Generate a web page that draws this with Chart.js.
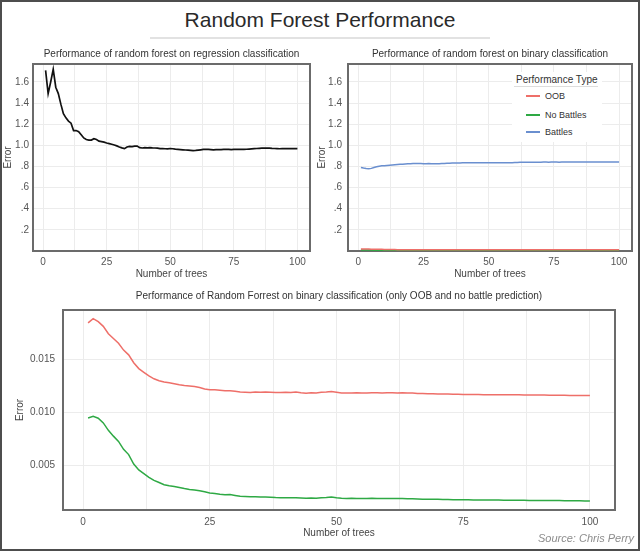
<!DOCTYPE html>
<html>
<head>
<meta charset="utf-8">
<script src="https://cdn.jsdelivr.net/npm/chart.js@4.4.1/dist/chart.umd.min.js"></script>
<style>
  html, body { margin: 0; padding: 0; background: #fff; }
  #page { position: relative; width: 640px; height: 551px; overflow: hidden; background: #fff;
          font-family: "Liberation Sans", Arial, sans-serif; }
  #frame { position: absolute; left: 0; top: 0; width: 640px; height: 551px; box-sizing: border-box;
           border: 2px solid #4d4d4d; pointer-events: none; }
  #title { position: absolute; left: 0; width: 640px; top: 8px; text-align: center;
           font-size: 21px; color: #2a2a2a; line-height: 24px; }
  #rule { position: absolute; left: 150px; top: 37px; width: 340px; height: 2px; background: #e2e2e2; }
  canvas { position: absolute; }
  #legend { position: absolute; left: 512px; top: 72px; width: 90px; height: 70px; background: #fff; }
  #legend .head { position: absolute; left: 4px; top: 2px; font-size: 10px; line-height: 12px; color: #333; }
  #legend .under { position: absolute; left: 2px; top: 14px; width: 84px; height: 1px; background: #ddd; }
  #legend .row { position: absolute; left: 14px; height: 10px; font-size: 9px; line-height: 10px; color: #333; white-space: nowrap; }
  #legend .row i { position: absolute; left: 0; top: 4px; width: 14px; height: 2px; }
  #legend .row span { position: absolute; left: 19px; top: 0; }
  #source { position: absolute; right: 6px; top: 532px; font-size: 11px; font-style: italic; color: #8c8c8c; }
</style>
</head>
<body>
<div id="page">
  <div id="title">Random Forest Performance</div>
  <div id="rule"></div>
  <canvas id="c1" width="312" height="240" style="left:0;top:44px"></canvas>
  <canvas id="c2" width="328" height="240" style="left:312px;top:44px"></canvas>
  <canvas id="c3" width="640" height="261" style="left:0;top:284px"></canvas>
  <div id="legend"></div>
  <div id="source">Source: Chris Perry</div>
  <div id="frame"></div>
</div>
<script>
// number of trees on the x axis
const trees = Array.from({ length: 100 }, (_, i) => i + 1);

// regression error (top left)
const regressionError = [
  1.71, 1.49, 1.60, 1.72, 1.55, 1.49, 1.39, 1.30, 1.26, 1.23,
  1.21, 1.14, 1.14, 1.13, 1.10, 1.07, 1.055, 1.05, 1.05, 1.063,
  1.055, 1.04, 1.035, 1.03, 1.022, 1.016, 1.01, 1.003, 0.995, 0.985,
  0.976, 0.969, 0.985, 0.99, 0.988, 0.993, 0.993, 0.978, 0.975, 0.978,
  0.977, 0.978, 0.976, 0.975, 0.974, 0.969, 0.970, 0.968, 0.967, 0.970,
  0.968, 0.964, 0.962, 0.960, 0.958, 0.956, 0.955, 0.953, 0.951, 0.952,
  0.955, 0.958, 0.961, 0.963, 0.962, 0.960, 0.958, 0.959, 0.960, 0.960,
  0.961, 0.961, 0.962, 0.960, 0.961, 0.962, 0.962, 0.961, 0.962, 0.963,
  0.965, 0.967, 0.969, 0.970, 0.972, 0.973, 0.974, 0.974, 0.973, 0.971,
  0.970, 0.969, 0.968, 0.969, 0.970, 0.969, 0.970, 0.969, 0.970, 0.969
];

// binary classification errors
const battlesError = [
  0.791, 0.785, 0.781, 0.779, 0.782, 0.790, 0.797, 0.803, 0.806, 0.808,
  0.810, 0.812, 0.814, 0.816, 0.818, 0.820, 0.822, 0.824, 0.825, 0.826,
  0.828, 0.829, 0.829, 0.828, 0.827, 0.827, 0.828, 0.827, 0.826, 0.826,
  0.827, 0.828, 0.829, 0.830, 0.831, 0.832, 0.833, 0.834, 0.834, 0.835,
  0.835, 0.835, 0.836, 0.836, 0.836, 0.836, 0.835, 0.835, 0.836, 0.836,
  0.836, 0.835, 0.835, 0.836, 0.836, 0.836, 0.835, 0.836, 0.836, 0.837,
  0.838, 0.839, 0.840, 0.840, 0.841, 0.840, 0.840, 0.840, 0.841, 0.841,
  0.842, 0.842, 0.841, 0.842, 0.842, 0.842, 0.841, 0.842, 0.842, 0.842,
  0.842, 0.842, 0.843, 0.842, 0.842, 0.842, 0.843, 0.843, 0.842, 0.842,
  0.842, 0.843, 0.843, 0.842, 0.842, 0.843, 0.843, 0.842, 0.843, 0.842
];

const oobError = [
  0.01848, 0.01888, 0.01860, 0.01815, 0.01745, 0.01700, 0.01655, 0.01590, 0.01545, 0.01470,
  0.01415, 0.01380, 0.01345, 0.01318, 0.01300, 0.01288, 0.01280, 0.01272, 0.01262, 0.01255,
  0.01250, 0.01245, 0.01235, 0.01222, 0.01215, 0.01215, 0.01210, 0.01205, 0.01206, 0.01200,
  0.01192, 0.01190, 0.01188, 0.01192, 0.01190, 0.01192, 0.01190, 0.01188, 0.01188, 0.01190,
  0.01188, 0.01192, 0.01186, 0.01182, 0.01185, 0.01183, 0.01190, 0.01192, 0.01197, 0.01190,
  0.01184, 0.01183, 0.01184, 0.01185, 0.01183, 0.01184, 0.01185, 0.01185, 0.01184, 0.01186,
  0.01185, 0.01184, 0.01185, 0.01184, 0.01183, 0.01180, 0.01178, 0.01177, 0.01176, 0.01175,
  0.01174, 0.01173, 0.01172, 0.01171, 0.01170, 0.01170, 0.01169, 0.01169, 0.01168, 0.01168,
  0.01167, 0.01167, 0.01167, 0.01166, 0.01166, 0.01166, 0.01165, 0.01165, 0.01165, 0.01164,
  0.01164, 0.01163, 0.01163, 0.01162, 0.01162, 0.01161, 0.01161, 0.01160, 0.01160, 0.01159
];

const noBattlesError = [
  0.00946, 0.00962, 0.00945, 0.00900, 0.00830, 0.00775, 0.00725, 0.00650, 0.00600, 0.00510,
  0.00455, 0.00420, 0.00385, 0.00355, 0.00335, 0.00315, 0.00305, 0.00298, 0.00288, 0.00278,
  0.00270, 0.00265, 0.00258, 0.00248, 0.00236, 0.00232, 0.00225, 0.00220, 0.00221, 0.00213,
  0.00206, 0.00203, 0.00200, 0.00201, 0.00198, 0.00197, 0.00196, 0.00193, 0.00192, 0.00192,
  0.00190, 0.00192, 0.00189, 0.00186, 0.00188, 0.00186, 0.00190, 0.00193, 0.00198, 0.00190,
  0.00186, 0.00185, 0.00186, 0.00185, 0.00184, 0.00185, 0.00186, 0.00185, 0.00184, 0.00185,
  0.00184, 0.00183, 0.00183, 0.00182, 0.00182, 0.00180, 0.00178, 0.00177, 0.00176, 0.00176,
  0.00175, 0.00174, 0.00173, 0.00172, 0.00171, 0.00171, 0.00170, 0.00170, 0.00170, 0.00169,
  0.00169, 0.00169, 0.00168, 0.00168, 0.00168, 0.00167, 0.00167, 0.00166, 0.00166, 0.00166,
  0.00165, 0.00165, 0.00164, 0.00164, 0.00163, 0.00163, 0.00162, 0.00162, 0.00161, 0.00160
];

// ticks and labels
const xGridTicks = [0, 12.5, 25, 37.5, 50, 62.5, 75, 87.5, 100];
const xLabelTicks = [0, 25, 50, 75, 100];
const topYTicks = [0.2, 0.4, 0.6, 0.8, 1.0, 1.2, 1.4, 1.6];
const topYLabels = ['.2', '.4', '.6', '.8', '1.0', '1.2', '1.4', '1.6'];
const bottomYTicks = [0.005, 0.010, 0.015];
const bottomYLabels = ['0.005', '0.010', '0.015'];

const seriesNames = ['OOB', 'No Battles', 'Battles'];
const seriesColors = ['#ee6f69', '#2ea944', '#6a8fcf'];

const FONT = '"Liberation Sans", Arial, sans-serif';
const GRID = '#ececec';

// gray box around each plot panel
const panelFrame = {
  id: 'panelFrame',
  beforeDatasetsDraw(chart) {
    const { ctx, chartArea: a } = chart;
    ctx.save();
    ctx.strokeStyle = '#6b6b6b';
    ctx.lineWidth = 2;
    ctx.strokeRect(a.left, a.top, a.right - a.left, a.bottom - a.top);
    ctx.restore();
  }
};

function points(values) {
  return trees.map((t, i) => ({ x: t, y: values[i] }));
}

function lineSet(label, values, color, width) {
  return {
    label,
    data: points(values),
    borderColor: color,
    borderWidth: width,
    pointRadius: 0,
    tension: 0,
    fill: false
  };
}

function makeOptions(o) {
  return {
    responsive: false,
    animation: false,
    events: [],
    layout: { padding: { right: o.padRight } },
    plugins: {
      legend: { display: false },
      tooltip: { enabled: false },
      title: {
        display: true,
        text: o.title,
        fullSize: false,
        color: '#333',
        font: { family: FONT, size: 10, weight: 'normal' },
        padding: { top: o.titleTop, bottom: o.titleBottom }
      }
    },
    scales: {
      x: {
        type: 'linear',
        min: -3.95,
        max: 104.95,
        afterBuildTicks: s => { s.ticks = xGridTicks.map(v => ({ value: v })); },
        afterFit: s => { s.height = o.xHeight; },
        border: { display: false },
        grid: { color: GRID, drawTicks: false },
        ticks: {
          padding: o.xTickPad,
          color: '#555',
          font: { family: FONT, size: 10 },
          maxRotation: 0,
          autoSkip: false,
          callback: v => (xLabelTicks.includes(v) ? String(v) : '')
        },
        title: {
          display: true,
          text: 'Number of trees',
          color: '#444',
          font: { family: FONT, size: 10 },
          padding: { top: 0, bottom: o.xTitlePad }
        }
      },
      y: {
        type: 'linear',
        min: o.yMin,
        max: o.yMax,
        afterBuildTicks: s => { s.ticks = o.yTicks.map(v => ({ value: v })); },
        afterFit: s => { s.width = o.yWidth; },
        border: { display: false },
        grid: { color: GRID, drawTicks: false },
        ticks: {
          padding: o.yTickPad,
          color: '#555',
          font: { family: FONT, size: 10 },
          autoSkip: false,
          callback: (v, i) => o.yLabels[i]
        },
        title: {
          display: true,
          text: 'Error',
          color: '#444',
          font: { family: FONT, size: 10 },
          padding: { top: o.yTitlePad, bottom: 0 }
        }
      }
    }
  };
}

new Chart(document.getElementById('c1'), {
  type: 'line',
  data: { datasets: [lineSet('Regression', regressionError, '#111', 1.7)] },
  options: makeOptions({
    title: 'Performance of random forest on regression classification',
    titleTop: 4, titleBottom: 4, padRight: 2,
    xHeight: 33, xTickPad: 5, xTitlePad: 4,
    yWidth: 33, yTickPad: 4, yTitlePad: 2,
    yMin: 0, yMax: 1.77, yTicks: topYTicks, yLabels: topYLabels
  }),
  plugins: [panelFrame]
});

new Chart(document.getElementById('c2'), {
  type: 'line',
  data: {
    datasets: [
      lineSet(seriesNames[0], oobError, seriesColors[0], 1.5),
      lineSet(seriesNames[1], noBattlesError, seriesColors[1], 1.5),
      lineSet(seriesNames[2], battlesError, seriesColors[2], 1.5)
    ]
  },
  options: makeOptions({
    title: 'Performance of random forest on binary classification',
    titleTop: 4, titleBottom: 4, padRight: 8,
    xHeight: 33, xTickPad: 5, xTitlePad: 4,
    yWidth: 36, yTickPad: 6, yTitlePad: 4,
    yMin: 0, yMax: 1.77, yTicks: topYTicks, yLabels: topYLabels
  }),
  plugins: [panelFrame]
});

new Chart(document.getElementById('c3'), {
  type: 'line',
  data: {
    datasets: [
      lineSet(seriesNames[0], oobError, seriesColors[0], 1.5),
      lineSet(seriesNames[1], noBattlesError, seriesColors[1], 1.5)
    ]
  },
  options: makeOptions({
    title: 'Performance of Random Forrest on binary classification (only OOB and no battle prediction)',
    titleTop: 6, titleBottom: 8, padRight: 25,
    xHeight: 35, xTickPad: 6, xTitlePad: 6,
    yWidth: 63, yTickPad: 8, yTitlePad: 14,
    yMin: 0.00075, yMax: 0.0197, yTicks: bottomYTicks, yLabels: bottomYLabels
  }),
  plugins: [panelFrame]
});

// legend for the top-right panel
const legend = document.getElementById('legend');
let html = '<div class="head">Performance Type</div><div class="under"></div>';
const rowTops = [19, 38, 55];
seriesNames.forEach((name, i) => {
  html += '<div class="row" style="top:' + rowTops[i] + 'px"><i style="background:' +
    seriesColors[i] + '"></i><span>' + name + '</span></div>';
});
legend.innerHTML = html;
</script>
</body>
</html>
